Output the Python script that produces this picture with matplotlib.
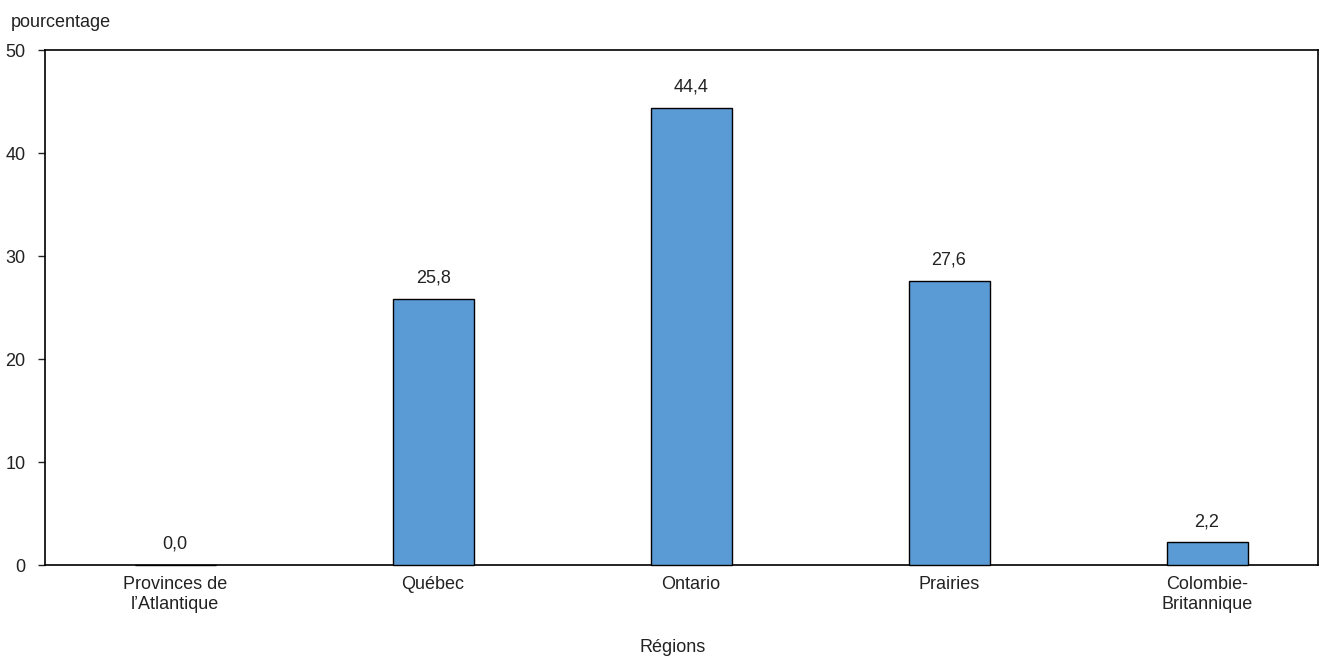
import matplotlib
matplotlib.use("Agg")
import matplotlib.pyplot as plt
import numpy as np

regions = ["Provinces de\nl\u2019Atlantique", "Qu\u00e9bec", "Ontario", "Prairies", "Colombie-\nBritannique"]
values = [0.0, 25.8, 44.4, 27.6, 2.2]
yticks = [0, 10, 20, 30, 40, 50]

plt.rcParams["font.family"] = ["Liberation Sans", "DejaVu Sans"]
plt.rcParams["font.size"] = 13

fig = plt.figure(figsize=(13.25, 6.58), dpi=100)
ax = fig.add_axes([0.034, 0.1413, 0.9607, 0.7827])

x = np.arange(len(regions))
bars = ax.bar(x, values, width=0.314, color="#5B9BD5", edgecolor="black",
              linewidth=1, clip_on=False, zorder=3)

for xi, v in zip(x, values):
    ax.text(xi, v + 1.2, f"{v:.1f}".replace(".", ","), ha="center", va="bottom", color="#222222")

ax.set_xlim(-0.504, 4.43)
ax.set_ylim(0, 50)
ax.set_yticks(yticks)
ax.set_xticks(x)
ax.set_xticklabels(regions, color="#222222")
ax.tick_params(axis="x", length=0, pad=8)
ax.tick_params(axis="y", length=5, width=1, pad=9, colors="#222222")
for s in ax.spines.values():
    s.set_linewidth(1.2)

fig.text(0.008, 0.966, "pourcentage", ha="left", va="center", color="#222222")
fig.text(0.508, 0.016, "R\u00e9gions", ha="center", va="center", color="#222222")

fig.savefig("out.png", dpi=100)
